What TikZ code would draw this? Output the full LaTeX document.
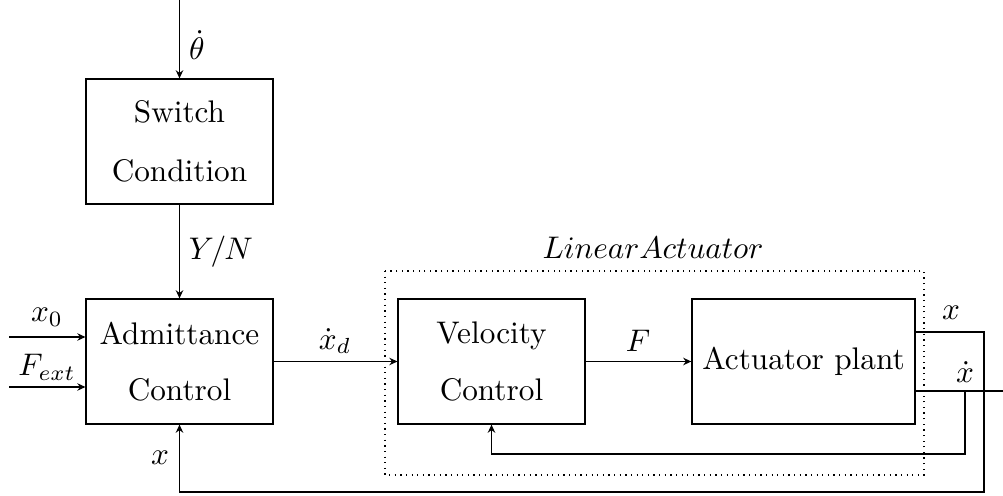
\documentclass[tikz,border=0pt]{standalone}
\usetikzlibrary{arrows.meta}
\begin{document}
\begin{tikzpicture}[x=0.32pt,y=-0.32pt,
  block/.style={draw, minimum width=59.8pt, minimum height=40pt, align=center, inner sep=0pt},
  sig/.style={-{Stealth[length=2.6pt,width=2.4pt]}},
  group/.style={dash pattern=on 0.4pt off 1.4pt},
  lbl/.style={inner sep=0pt}]
\useasboundingbox (0,0) rectangle (1003,496);

% blocks
\node[block] (sw)  at (179.5,141.5) {Switch\\[7pt]Condition};
\node[block] (adm) at (179.5,361.5) {Admittance\\[6pt]Control};
\node[block] (vel) at (491.5,361.5) {Velocity\\[6pt]Control};
\node[block, minimum width=71.4pt] (pl) at (803.5,361.5) {Actuator plant};

% linear actuator group
\coordinate (gtl) at (385,271);
\coordinate (gbr) at (924,475);
\draw[group] (gtl) rectangle (gbr);
\node[lbl] (gname) at (653,248) {$LinearActuator$};

% switching signal
\coordinate (thin) at (179.5,0);
\draw[sig] (thin) -- (sw.north);
\node[lbl] (thlbl) at (197,45) {$\dot{\theta}$};
\draw[sig] (sw) -- (adm);
\node[lbl] (yn) at (221,252) {$Y/N$};

% external inputs
\coordinate (x0in) at (9,337);
\draw[sig] (x0in) -- (x0in -| adm.west);
\node[lbl] (x0lbl) at (47,317) {$x_0$};
\coordinate (fin) at (9,387);
\draw[sig] (fin) -- (fin -| adm.west);
\node[lbl] (flbl) at (47,367) {$F_{ext}$};

% forward path
\draw[sig] (adm) -- (vel);
\node[lbl] (xdlbl) at (335,341) {$\dot{x}_d$};
\draw[sig] (vel) -- (pl);
\node[lbl] (flbl2) at (638,341) {$F$};

% position feedback
\coordinate (xo) at (984,332);
\coordinate (xb) at (984,492);
\draw[sig] (pl.east |- xo) -- (xo) -- (xb) -- (xb -| adm.south) -- (adm.south);
\node[lbl] (xolbl) at (951,313) {$x$};
\node[lbl] (xfblbl) at (160,458) {$x$};

% velocity output and feedback
\coordinate (vo) at (1003,391);
\coordinate (vb) at (965,454);
\draw (pl.east |- vo) -- (vo);
\draw[sig] (vb |- vo) -- (vb) -- (vb -| vel.south) -- (vel.south);
\node[lbl] (vlbl) at (965,372) {$\dot{x}$};
\end{tikzpicture}
\end{document}
